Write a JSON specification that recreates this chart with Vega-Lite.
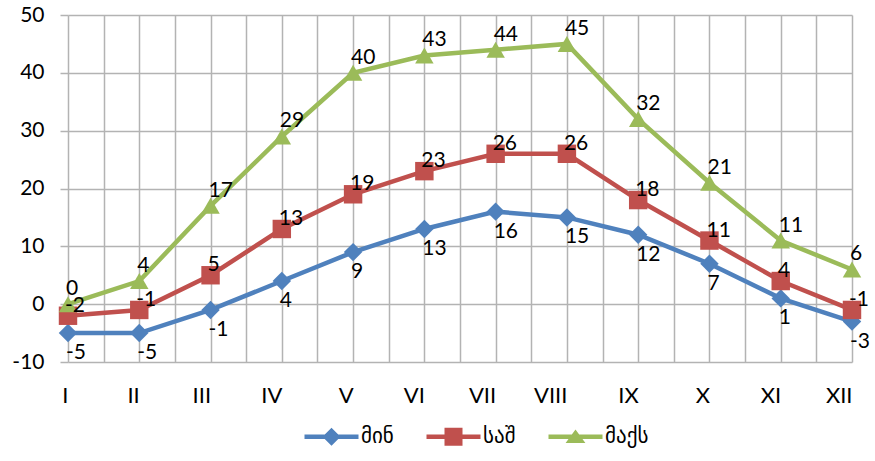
{
  "$schema": "https://vega.github.io/schema/vega-lite/v6.json",
  "width": 784,
  "height": 347,
  "autosize": {"type": "none"},
  "padding": {"left": 68, "top": 15, "right": 23, "bottom": 99},
  "background": "white",
  "config": {"view": {"stroke": null}, "font": "Lato"},
  "data": {"values": [
    {"m": "I", "i": 1, "s": "მინ", "v": -5}, {"m": "I", "i": 1, "s": "საშ", "v": -2}, {"m": "I", "i": 1, "s": "მაქს", "v": 0},
    {"m": "II", "i": 2, "s": "მინ", "v": -5}, {"m": "II", "i": 2, "s": "საშ", "v": -1}, {"m": "II", "i": 2, "s": "მაქს", "v": 4},
    {"m": "III", "i": 3, "s": "მინ", "v": -1}, {"m": "III", "i": 3, "s": "საშ", "v": 5}, {"m": "III", "i": 3, "s": "მაქს", "v": 17},
    {"m": "IV", "i": 4, "s": "მინ", "v": 4}, {"m": "IV", "i": 4, "s": "საშ", "v": 13}, {"m": "IV", "i": 4, "s": "მაქს", "v": 29},
    {"m": "V", "i": 5, "s": "მინ", "v": 9}, {"m": "V", "i": 5, "s": "საშ", "v": 19}, {"m": "V", "i": 5, "s": "მაქს", "v": 40},
    {"m": "VI", "i": 6, "s": "მინ", "v": 13}, {"m": "VI", "i": 6, "s": "საშ", "v": 23}, {"m": "VI", "i": 6, "s": "მაქს", "v": 43},
    {"m": "VII", "i": 7, "s": "მინ", "v": 16}, {"m": "VII", "i": 7, "s": "საშ", "v": 26}, {"m": "VII", "i": 7, "s": "მაქს", "v": 44},
    {"m": "VIII", "i": 8, "s": "მინ", "v": 15}, {"m": "VIII", "i": 8, "s": "საშ", "v": 26}, {"m": "VIII", "i": 8, "s": "მაქს", "v": 45},
    {"m": "IX", "i": 9, "s": "მინ", "v": 12}, {"m": "IX", "i": 9, "s": "საშ", "v": 18}, {"m": "IX", "i": 9, "s": "მაქს", "v": 32},
    {"m": "X", "i": 10, "s": "მინ", "v": 7}, {"m": "X", "i": 10, "s": "საშ", "v": 11}, {"m": "X", "i": 10, "s": "მაქს", "v": 21},
    {"m": "XI", "i": 11, "s": "მინ", "v": 1}, {"m": "XI", "i": 11, "s": "საშ", "v": 4}, {"m": "XI", "i": 11, "s": "მაქს", "v": 11},
    {"m": "XII", "i": 12, "s": "მინ", "v": -3}, {"m": "XII", "i": 12, "s": "საშ", "v": -1}, {"m": "XII", "i": 12, "s": "მაქს", "v": 6}
  ]},
  "encoding": {
    "x": {"field": "i", "type": "quantitative",
      "scale": {"domain": [1, 12], "nice": false, "zero": false},
      "axis": {"title": null, "values": [1,1.5,2,2.5,3,3.5,4,4.5,5,5.5,6,6.5,7,7.5,8,8.5,9,9.5,10,10.5,11,11.5,12],
        "labelExpr": "datum.value % 1 === 0 ? ['I','II','III','IV','V','VI','VII','VIII','IX','X','XI','XII'][datum.value - 1] : ''",
        "labelFontSize": 22, "labelColor": "#000000", "labelFont": "Lato", "labelPadding": 23, "tickSize": 0, "ticks": false,
        "labelAlign": "right", "labelDx": 1,
        "domain": false, "grid": true, "gridColor": "#b3b3b3", "gridWidth": 1.5, "labelOverlap": false}},
    "y": {"field": "v", "type": "quantitative",
      "scale": {"domain": [-10, 50], "nice": false, "zero": false},
      "axis": {"title": null, "values": [-10,0,10,20,30,40,50], "labelExpr": "datum.value + ''", "labelFontSize": 21, "labelColor": "#000000", "labelFont": "Lato",
        "tickSize": 8, "tickColor": "#b3b3b3", "tickWidth": 1.5, "labelPadding": 16, "domain": false,
        "grid": true, "gridColor": "#b3b3b3", "gridWidth": 1.5}}
  },
  "resolve": {"scale": {"color": "independent", "shape": "independent"}},
  "layer": [
    {
      "mark": {"type": "line", "strokeWidth": 4.5},
      "encoding": {
        "color": {"field": "s", "type": "nominal", "scale": {"domain": ["მინ", "საშ", "მაქს"], "range": ["#4F81BD", "#C0504D", "#9BBB59"]}, "legend": null}
      }
    },
    {
      "mark": {"type": "point", "filled": true, "opacity": 1, "strokeWidth": 0, "size": 340},
      "encoding": {
        "color": {"field": "s", "type": "nominal", "scale": {"domain": ["მინ", "საშ", "მაქს"], "range": ["#4F81BD", "#C0504D", "#9BBB59"]}, "legend": null},
        "shape": {"field": "s", "type": "nominal", "scale": {"domain": ["მინ", "საშ", "მაქს"], "range": ["diamond", "square", "triangle-up"]}, "legend": null}
      }
    },
    {
      "transform": [{"filter": "datum.s === 'მინ'"}],
      "mark": {"type": "text", "align": "left", "baseline": "middle", "dx": -2, "dy": 20, "fontSize": 21, "font": "Lato", "color": "#000000"},
      "encoding": {"text": {"field": "v", "type": "nominal"}}
    },
    {
      "transform": [{"filter": "datum.s === 'საშ'"}],
      "mark": {"type": "text", "align": "left", "baseline": "middle", "dx": -3, "dy": -10, "fontSize": 21, "font": "Lato", "color": "#000000"},
      "encoding": {"text": {"field": "v", "type": "nominal"}}
    },
    {
      "transform": [{"filter": "datum.s === 'მაქს'"}],
      "mark": {"type": "text", "align": "left", "baseline": "middle", "dx": -2, "dy": -15, "fontSize": 21, "font": "Lato", "color": "#000000"},
      "encoding": {"text": {"field": "v", "type": "nominal"}}
    },
    {
      "transform": [{"filter": "false"}],
      "mark": {"type": "point", "filled": true, "opacity": 1, "strokeWidth": 0, "size": 324},
      "encoding": {
        "color": {"field": "s", "type": "nominal", "scale": {"domain": ["მინ", "საშ", "მაქს"], "range": ["#4F81BD", "#C0504D", "#9BBB59"]},
          "legend": {"orient": "none", "legendX": 253, "legendY": 411, "direction": "horizontal", "title": null, "symbolSize": 324,
            "labelFontSize": 21, "labelFont": "DejaVu Sans", "labelColor": "#000000", "labelOffset": 19, "columnPadding": 32, "symbolStrokeWidth": 0}},
        "shape": {"field": "s", "type": "nominal", "scale": {"domain": ["მინ", "საშ", "მაქს"], "range": [
          "M-3,-0.25H3V0.25H-3Z M-1,0L0,-1L1,0L0,1Z",
          "M-3,-0.25H3V0.25H-3Z M-1,-1H1V1H-1Z",
          "M-3,-0.25H3V0.25H-3Z M0,-0.8L1.1,0.7H-1.1Z"
        ]}},
        "opacity": {"value": 1}
      }
    }
  ]
}
